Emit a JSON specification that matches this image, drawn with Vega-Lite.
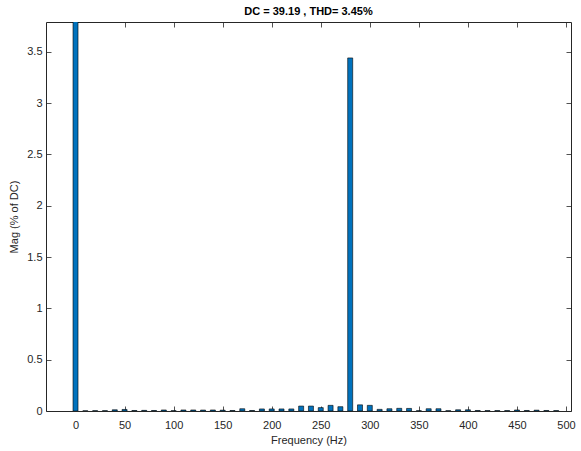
{
  "$schema": "https://vega.github.io/schema/vega-lite/v6.json",
  "autosize": "none",
  "width": 525,
  "height": 389,
  "padding": {"left": 46, "top": 22, "right": 10, "bottom": 40},
  "background": "white",
  "title": {
    "text": "DC = 39.19 , THD= 3.45%",
    "font": "Liberation Sans",
    "fontSize": 11,
    "fontWeight": "bold",
    "color": "black",
    "anchor": "middle",
    "offset": 5
  },
  "config": {
    "view": {"stroke": null},
    "axis": {
      "domainColor": "#262626",
      "domainWidth": 1,
      "tickColor": "#262626",
      "tickSize": -5,
      "tickWidth": 0.8,
      "grid": false,
      "labelFont": "Liberation Sans",
      "labelFontSize": 11,
      "labelColor": "#262626",
      "titleFont": "Liberation Sans",
      "titleFontSize": 11,
      "titleFontWeight": "normal",
      "titleColor": "#262626"
    }
  },
  "data": {
    "values": [
      {"f": 0, "mag": 100},
      {"f": 10, "mag": 0.002},
      {"f": 20, "mag": 0.003},
      {"f": 30, "mag": 0.003},
      {"f": 40, "mag": 0.012},
      {"f": 50, "mag": 0.015},
      {"f": 60, "mag": 0.005},
      {"f": 70, "mag": 0.006},
      {"f": 80, "mag": 0.005},
      {"f": 90, "mag": 0.01},
      {"f": 100, "mag": 0.003},
      {"f": 110, "mag": 0.01},
      {"f": 120, "mag": 0.01},
      {"f": 130, "mag": 0.009},
      {"f": 140, "mag": 0.01},
      {"f": 150, "mag": 0.008},
      {"f": 160, "mag": 0.005},
      {"f": 170, "mag": 0.022},
      {"f": 180, "mag": 0.005},
      {"f": 190, "mag": 0.02},
      {"f": 200, "mag": 0.02},
      {"f": 210, "mag": 0.02},
      {"f": 220, "mag": 0.02},
      {"f": 230, "mag": 0.048},
      {"f": 240, "mag": 0.048},
      {"f": 250, "mag": 0.033},
      {"f": 260, "mag": 0.055},
      {"f": 270, "mag": 0.042},
      {"f": 280, "mag": 3.44},
      {"f": 290, "mag": 0.06},
      {"f": 300, "mag": 0.055},
      {"f": 310, "mag": 0.016},
      {"f": 320, "mag": 0.022},
      {"f": 330, "mag": 0.026},
      {"f": 340, "mag": 0.025},
      {"f": 350, "mag": 0.003},
      {"f": 360, "mag": 0.022},
      {"f": 370, "mag": 0.022},
      {"f": 380, "mag": 0.003},
      {"f": 390, "mag": 0.012},
      {"f": 400, "mag": 0.012},
      {"f": 410, "mag": 0.005},
      {"f": 420, "mag": 0.004},
      {"f": 430, "mag": 0.004},
      {"f": 440, "mag": 0.004},
      {"f": 450, "mag": 0.01},
      {"f": 460, "mag": 0.005},
      {"f": 470, "mag": 0.008},
      {"f": 480, "mag": 0.005},
      {"f": 490, "mag": 0.004}
    ]
  },
  "layer": [
    {
      "mark": {
        "type": "bar",
        "size": 5,
        "fill": "#0072BD",
        "stroke": "black",
        "strokeWidth": 0.6,
        "clip": true
      },
      "encoding": {
        "x": {
          "field": "f",
          "type": "quantitative",
          "scale": {"domain": [-25, 500], "nice": false, "zero": false},
          "axis": {
            "orient": "bottom",
            "title": "Frequency (Hz)",
            "values": [0, 50, 100, 150, 200, 250, 300, 350, 400, 450, 500],
            "labelPadding": 13,
            "titlePadding": 4
          }
        },
        "y": {
          "field": "mag",
          "type": "quantitative",
          "scale": {"domain": [0, 3.79], "nice": false},
          "axis": {
            "orient": "left",
            "title": "Mag (% of DC)",
            "values": [0, 0.5, 1, 1.5, 2, 2.5, 3, 3.5],
            "format": "~g",
            "labelPadding": 9,
            "titlePadding": 7
          }
        }
      }
    },
    {
      "mark": {"type": "point", "opacity": 0, "clip": true},
      "encoding": {
        "x": {
          "field": "f",
          "type": "quantitative",
          "axis": {
            "orient": "top",
            "title": null,
            "labels": false,
            "values": [0, 50, 100, 150, 200, 250, 300, 350, 400, 450, 500]
          }
        },
        "y": {
          "field": "mag",
          "type": "quantitative",
          "axis": {
            "orient": "right",
            "title": null,
            "labels": false,
            "values": [0, 0.5, 1, 1.5, 2, 2.5, 3, 3.5]
          }
        }
      }
    }
  ],
  "resolve": {"axis": {"x": "independent", "y": "independent"}}
}
